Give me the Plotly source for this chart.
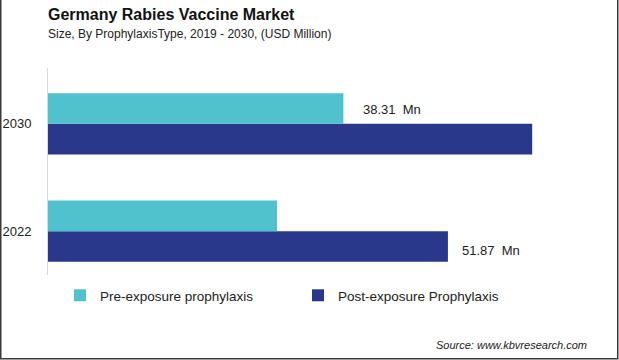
import plotly.graph_objects as go

# ---- data ----
years = ["2022", "2030"]
pre_exposure = [29.7, 38.31]
post_exposure = [51.87, 62.8]
series_names = ["Pre-exposure prophylaxis", "Post-exposure Prophylaxis"]
label_pre = {"2030": "38.31  Mn"}
label_post = {"2022": "51.87  Mn"}

title_text = "Germany Rabies Vaccine Market"
subtitle_text = "Size, By ProphylaxisType, 2019 - 2030, (USD Million)"
source_text = "Source: www.kbvresearch.com"

# ---- style / layout ----
W, H = 619, 360
ML, MR, MT, MB = 48, 19, 68, 85
PW, PH = W - ML - MR, H - MT - MB
FONT = "Liberation Sans, Arial, sans-serif"
C_PRE = "#4FC2CD"
C_POST = "#2A388C"

def px_x(p):
    return (p - ML) / PW

def px_y(p):
    return (H - MB - p) / PH

fig = go.Figure()
# post first so that pre sits above it within each group
fig.add_trace(go.Bar(y=years, x=post_exposure, name=series_names[1], orientation="h",
                     marker=dict(color=C_POST, line=dict(width=0)), legendrank=2))
fig.add_trace(go.Bar(y=years, x=pre_exposure, name=series_names[0], orientation="h",
                     marker=dict(color=C_PRE, line=dict(width=0)), legendrank=1))

annotations = []
for yr, txt in label_pre.items():
    i = years.index(yr)
    annotations.append(dict(x=pre_exposure[i], y=i, xref="x", yref="y", text=txt, showarrow=False,
                            xanchor="left", yanchor="middle", xshift=18, yshift=14,
                            font=dict(family=FONT, size=13, color="#222")))
for yr, txt in label_post.items():
    i = years.index(yr)
    annotations.append(dict(x=post_exposure[i], y=i, xref="x", yref="y", text=txt, showarrow=False,
                            xanchor="left", yanchor="middle", xshift=12, yshift=-19,
                            font=dict(family=FONT, size=13, color="#222")))

annotations += [
    dict(x=px_x(46), y=px_y(15), xref="paper", yref="paper", text="<b>" + title_text + "</b>",
         showarrow=False, xanchor="left", yanchor="middle",
         font=dict(family=FONT, size=16, color="#111")),
    dict(x=px_x(46), y=px_y(34), xref="paper", yref="paper", text=subtitle_text,
         showarrow=False, xanchor="left", yanchor="middle",
         font=dict(family=FONT, size=12, color="#222")),
    dict(x=px_x(589), y=px_y(345), xref="paper", yref="paper", text="<i>" + source_text + "</i>",
         showarrow=False, xanchor="right", yanchor="middle",
         font=dict(family=FONT, size=11, color="#222")),
]

shapes = [
    dict(type="rect", xref="paper", yref="paper",
         x0=px_x(0.75), x1=px_x(617.75), y0=px_y(358.75), y1=px_y(-5),
         line=dict(color="#3a3a3a", width=1.5), fillcolor="rgba(0,0,0,0)", layer="above"),
]

fig.update_layout(
    width=W, height=H,
    margin=dict(l=ML, r=MR, t=MT, b=MB, autoexpand=False),
    paper_bgcolor="white", plot_bgcolor="white",
    barmode="group", bargap=0.43, bargroupgap=0,
    font=dict(family=FONT, size=13, color="#222"),
    showlegend=True,
    legend=dict(orientation="h", x=px_x(60), xanchor="left", y=px_y(280), yanchor="top",
                font=dict(family=FONT, size=13.5, color="#222"), entrywidth=193,
                bgcolor="rgba(0,0,0,0)"),
    xaxis=dict(range=[0, PW / 7.71], showgrid=False, showticklabels=False, zeroline=False,
               showline=False, ticks="", automargin=False),
    yaxis=dict(type="category", categoryorder="array", categoryarray=years,
               range=[-0.408, 1.52], showgrid=False, zeroline=False, showline=True,
               linecolor="#d9d9d9", linewidth=1, ticks="", ticklabelstandoff=13,
               automargin=False,
               tickfont=dict(family=FONT, size=13, color="#222")),
    annotations=annotations,
    shapes=shapes,
)

fig.write_html("out.html", config={"displayModeBar": False},
               post_script="document.body.style.margin='0';document.body.style.overflow='hidden';")
